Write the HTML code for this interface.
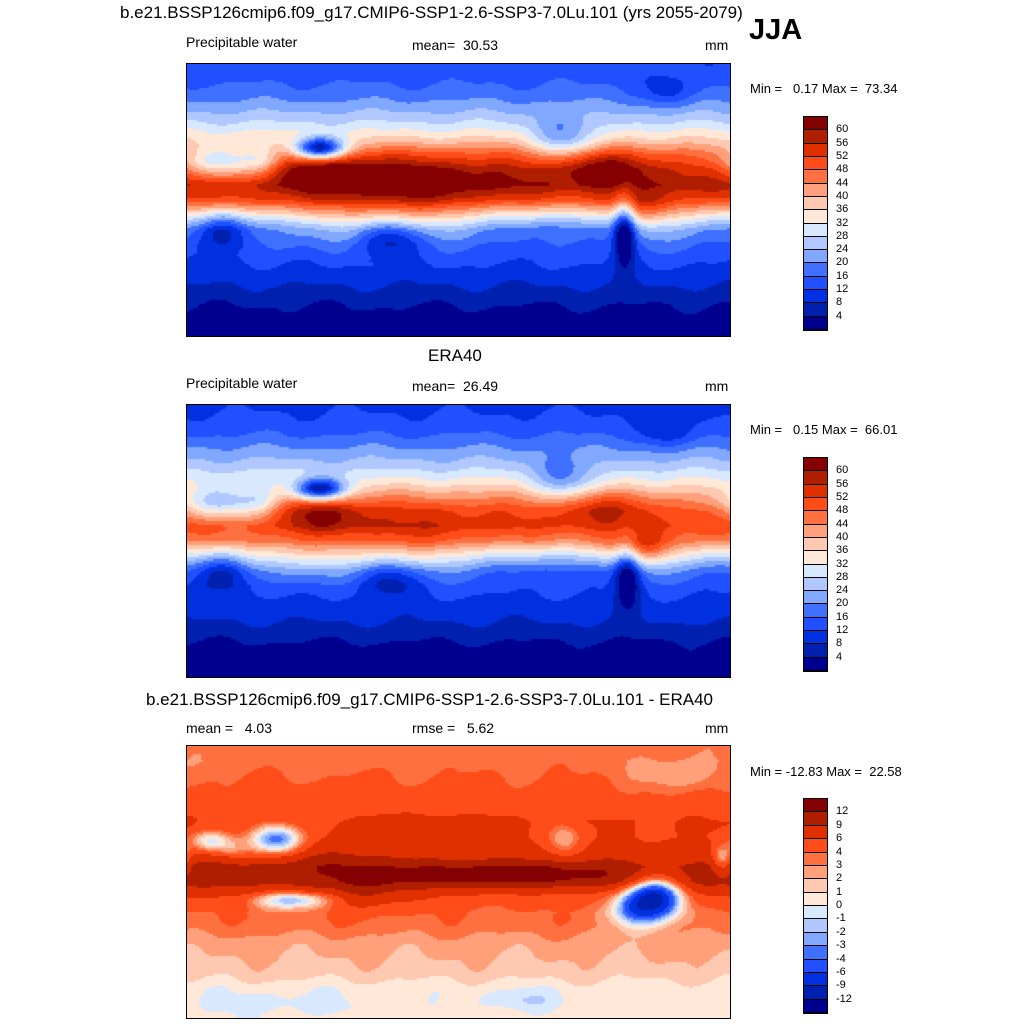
<!DOCTYPE html>
<html><head><meta charset="utf-8"><style>
body{margin:0;background:#fff;width:1024px;height:1024px;overflow:hidden;position:relative;font-family:"Liberation Sans",sans-serif;color:#000}
.t{position:absolute;white-space:nowrap}
canvas{position:absolute;border:1px solid #000;box-sizing:content-box}
.cb{position:absolute;left:803px;width:23px;border:1px solid #000}
.cb div{border-bottom:1px solid #000;box-sizing:border-box}
.lab{position:absolute;left:836px;font-size:11px}
</style></head><body>
<div class="t" style="left:120px;top:3px;font-size:17px">b.e21.BSSP126cmip6.f09_g17.CMIP6-SSP1-2.6-SSP3-7.0Lu.101 (yrs 2055-2079)</div>
<div class="t" style="left:749px;top:14px;font-size:29px;font-weight:bold">JJA</div>
<div class="t" style="left:186px;top:34px;font-size:14px">Precipitable water</div>
<div class="t" style="left:412px;top:37px;font-size:14px">mean=&nbsp; 30.53</div>
<div class="t" style="left:705px;top:37px;font-size:14px">mm</div>
<div class="t" style="left:750px;top:81px;font-size:13px">Min = &nbsp; 0.17 Max = &nbsp;73.34</div>

<div class="t" style="left:428px;top:346px;font-size:17px">ERA40</div>
<div class="t" style="left:186px;top:375px;font-size:14px">Precipitable water</div>
<div class="t" style="left:412px;top:378px;font-size:14px">mean=&nbsp; 26.49</div>
<div class="t" style="left:705px;top:378px;font-size:14px">mm</div>
<div class="t" style="left:750px;top:422px;font-size:13px">Min = &nbsp; 0.15 Max = &nbsp;66.01</div>

<div class="t" style="left:146px;top:690px;font-size:17px">b.e21.BSSP126cmip6.f09_g17.CMIP6-SSP1-2.6-SSP3-7.0Lu.101 - ERA40</div>
<div class="t" style="left:186px;top:720px;font-size:14px">mean = &nbsp; 4.03</div>
<div class="t" style="left:412px;top:720px;font-size:14px">rmse = &nbsp; 5.62</div>
<div class="t" style="left:705px;top:720px;font-size:14px">mm</div>
<div class="t" style="left:750px;top:764px;font-size:13px">Min = -12.83 Max = &nbsp;22.58</div>

<canvas id="m1" width="543" height="272" style="left:186px;top:63px"></canvas>
<canvas id="m2" width="543" height="272" style="left:186px;top:404px"></canvas>
<canvas id="m3" width="543" height="272" style="left:186px;top:745px"></canvas>

<script>
const colors=["#000090","#0020b0","#0030e0","#2050ff","#4070ff","#80a8ff","#b0c8ff","#d8e8ff","#ffe8d8","#ffc8b0","#ffa07a","#ff7040","#ff4d1a","#e03000","#b01e00","#850000"];
const pwLevels=[4,8,12,16,20,24,28,32,36,40,44,48,52,56,60];
const diffLevels=[-12,-9,-6,-4,-3,-2,-1,0,1,2,3,4,6,9,12];
const diffLabels=["12","9","6","4","3","2","1","0","-1","-2","-3","-4","-6","-9","-12"];
// zonal profiles (lat from 90N to 90S in 10° steps)
const profLats=[90,80,70,60,50,40,30,20,10,0,-10,-20,-30,-40,-50,-60,-70,-80,-90];
const modelProfile=[13,15,18,23,29,37,48,56,59,53,40,26,18,13,10,7,4,2,1];
const eraProfile=[11,13,16,21,26,33,42,50,52,46,34,22,15,11,9,6,3,2,1];
const diffProfile=[3.5,3.5,4,4.5,5,6,6,7,10,10,6,4,3.5,2.5,2,1.5,0.5,0.5,0.5];
// anomalies: [lon, lat, sigmaLon, sigmaLat, amplitude]
const modelAnoms=[[20,24,18,8,-22],[50,25,10,8,-12],[88,34,12,5,-38],[95,18,25,8,10],[150,12,40,12,8],[240,-15,40,10,-10],[290,-20,5,15,-25],[300,-5,15,8,6],[25,-20,12,10,-16],[135,-25,15,8,-12],[250,40,15,10,-14],[275,22,20,8,10],[318,72,12,8,-8],[355,-15,20,10,-6],[60,-15,25,8,-6]];
const eraAnoms=[[20,24,18,8,-20],[50,25,10,8,-10],[88,34,12,5,-34],[90,18,20,8,10],[150,10,40,12,4],[240,-15,40,10,-8],[292,-20,6,15,-20],[300,-5,15,8,12],[25,-20,12,10,-14],[135,-25,15,8,-10],[250,40,15,10,-12],[275,22,20,8,8],[318,72,12,8,-8],[355,-15,20,10,-5]];
const diffAnoms=[[60,28,12,7,-10],[15,27,10,5,-6],[30,22,10,5,-3],[70,-12,18,4,-7],[310,-10,12,10,-16],[295,-18,10,8,-6],[355,15,5,7,-6],[240,-10,40,6,-1],[210,5,60,5,4],[250,28,8,8,-4],[120,-5,15,10,3],[100,15,20,8,2],[160,35,30,6,2],[325,70,20,8,-2],[60,-80,40,6,-1],[220,-78,20,5,-1.5]];
function prof(p,lat){const i=Math.min(17,Math.max(0,Math.floor((90-lat)/10)));const f=((90-lat)-i*10)/10;return p[i]*(1-f)+p[i+1]*f;}
function draw(id,p,an,levels,wav){
 const c=document.getElementById(id).getContext('2d');const W=543,H=272,s=2;
 for(let y=0;y<H;y+=s)for(let x=0;x<W;x+=s){
  const lon=(x+1)/W*360,lat=90-(y+1)/H*180;let v=prof(p,lat);
  for(const a of an){let dl=lon-a[0];if(dl>180)dl-=360;if(dl<-180)dl+=360;v+=a[4]*Math.exp(-(dl*dl)/(2*a[2]*a[2])-((lat-a[1])**2)/(2*a[3]*a[3]));}
  v+=wav*(Math.sin(lon*0.09+lat*0.05)+0.6*Math.sin(lon*0.17-lat*0.11));
  let k=0;while(k<levels.length&&v>=levels[k])k++;
  c.fillStyle=colors[k];c.fillRect(x,y,s,s);}
}
draw('m1',modelProfile,modelAnoms,pwLevels,0.8);
draw('m2',eraProfile,eraAnoms,pwLevels,0.8);
draw('m3',diffProfile,diffAnoms,diffLevels,0.3);
function bar(top,h,labels,name){
 const b=document.createElement('div');b.className='cb';b.style.top=top+'px';
 
 
 const bh=h/16;
 for(let i=15;i>=0;i--){const d=document.createElement('div');d.style.height=bh+'px';d.style.background=colors[i];
  
  
  b.appendChild(d);}
 document.body.appendChild(b);
 labels.forEach((t,i)=>{const l=document.createElement('div');l.className='lab';l.textContent=t;l.style.top=(top+bh*(i+1)-6)+'px';
  
  
  document.body.appendChild(l);});
}
const pwLabels=pwLevels.slice().reverse().map(String);
bar(116,213,pwLabels,'colorbar-model');
bar(457,213,pwLabels,'colorbar-era40');
bar(798,214,diffLabels,'colorbar-diff');
</script>
</body></html>
